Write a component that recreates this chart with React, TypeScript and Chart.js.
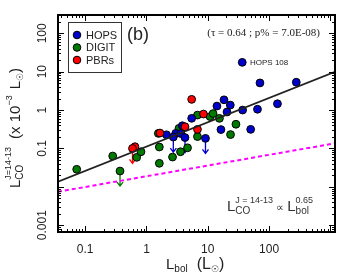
import React, { useEffect, useRef } from "react";
import { Chart, registerables } from "chart.js";
Chart.register(...registerables);

// ---- data ----
const hopsX = [36.5, 71, 278, 137, 64.7, 37, 18.4, 14.1, 23.3, 20.6, 5.46, 16.4, 50.1, 2.12, 3.0, 3.65, 3.84];
const hopsY = [17.5, 5.1, 5.3, 1.46, 1.05, 1.0, 1.85, 1.27, 1.35, 0.89, 0.61, 0.31, 0.314, 0.227, 0.247, 0.244, 0.39];
const hopsUlX = [2.74, 4.25, 9.17];
const hopsUlY = [0.198, 0.192, 0.183];

const digitX = [0.0727, 0.281, 0.692, 0.813, 1.56, 1.62, 1.62, 2.66, 3.39, 3.59, 4.67, 6.79, 6.79, 10.9, 12.2, 15.5, 28.8, 23.5];
const digitY = [0.0286, 0.0634, 0.0587, 0.082, 0.247, 0.109, 0.041, 0.0597, 0.334, 0.082, 0.104, 0.204, 0.741, 0.677, 0.81, 0.608, 0.427, 0.23];
const digitUlX = [0.37];
const digitUlY = [0.0258];

const pbrX = [5.46, 8.51, 4.25, 6.79, 1.66, 0.649];
const pbrY = [1.9, 0.787, 0.367, 0.314, 0.252, 0.111];
const pbrUlX = [0.591];
const pbrUlY = [0.1];

const fitX = [0.036, 1190];
const fitY = [0.0136, 9.9];
const limX = [0.036, 1190];
const limY = [0.00745, 0.136];

const xTickVals = [0.1, 1, 10, 100];
const xTickLabels = ["0.1", "1", "10", "100"];
const yTickVals = [100, 10, 1, 0.1, 0.001];
const yTickLabels = ["100", "10", "1", "0.1", "0.001"];

const X_MIN = 0.036, X_MAX = 1190, Y_MIN = 0.000665, Y_MAX = 300;

const BLUE = "#0000cc";
const GREEN = "#007a00";
const RED = "#ff0000";
const SANS = "'Liberation Sans', Arial, sans-serif";
const SERIF = "'Liberation Serif', 'Times New Roman', serif";

const pts = (xs: number[], ys: number[]) => xs.map((x, i) => ({ x, y: ys[i] }));

type Part = { t: string; size: number; dy?: number; sup?: boolean; sub?: boolean; gap?: number };

function drawRich(ctx: CanvasRenderingContext2D, parts: Part[], x: number, y: number, color: string) {
  let cx = x;
  let lastSubStart = -1;
  let lastSubW = 0;
  ctx.fillStyle = color;
  ctx.textBaseline = "alphabetic";
  ctx.textAlign = "left";
  for (let i = 0; i < parts.length; i++) {
    const p = parts[i];
    cx += p.gap || 0;
    ctx.font = `${p.size}px ${SANS}`;
    const w = ctx.measureText(p.t).width;
    if (p.sup && lastSubStart >= 0) {
      ctx.fillText(p.t, lastSubStart, y + (p.dy || 0));
      cx = lastSubStart + Math.max(w, lastSubW);
      lastSubStart = -1;
      continue;
    }
    ctx.fillText(p.t, cx, y + (p.dy || 0));
    if (p.sub) {
      lastSubStart = cx;
      lastSubW = w;
    } else {
      lastSubStart = -1;
    }
    cx += w;
  }
  return cx - x;
}

function drawArrows(chart: any, xs: number[], ys: number[], color: string) {
  const ctx = chart.ctx as CanvasRenderingContext2D;
  const xs_ = chart.scales.x, ys_ = chart.scales.y;
  ctx.save();
  ctx.strokeStyle = color;
  ctx.lineWidth = 1.3;
  xs.forEach((v, i) => {
    const px = xs_.getPixelForValue(v);
    const py = ys_.getPixelForValue(ys[i]);
    const end = py + 15;
    ctx.beginPath();
    ctx.moveTo(px, py);
    ctx.lineTo(px, end);
    ctx.moveTo(px - 3, end - 4);
    ctx.lineTo(px, end);
    ctx.lineTo(px + 3, end - 4);
    ctx.stroke();
  });
  ctx.restore();
}

const overlay = {
  id: "overlay",
  beforeDatasetsDraw(chart: any) {
    drawArrows(chart, hopsUlX, hopsUlY, BLUE);
    drawArrows(chart, digitUlX, digitUlY, GREEN);
    drawArrows(chart, pbrUlX, pbrUlY, RED);
  },
  afterDraw(chart: any) {
    const ctx = chart.ctx as CanvasRenderingContext2D;
    const a = chart.chartArea;
    const xs = chart.scales.x, ys = chart.scales.y;
    ctx.save();
    // ticks
    ctx.strokeStyle = "#000";
    ctx.lineWidth = 1;
    const decX: [number, boolean][] = [];
    for (let e = -2; e <= 3; e++) for (let m = 1; m <= 9; m++) decX.push([m * Math.pow(10, e), m === 1]);
    decX.forEach(([v, major]) => {
      if (v < X_MIN || v > X_MAX) return;
      const px = Math.round(xs.getPixelForValue(v)) + 0.5;
      const len = major ? 6 : 3;
      ctx.beginPath();
      ctx.moveTo(px, a.bottom);
      ctx.lineTo(px, a.bottom - len);
      ctx.moveTo(px, a.top);
      ctx.lineTo(px, a.top + len);
      ctx.stroke();
    });
    const decY: [number, boolean][] = [];
    for (let e = -4; e <= 2; e++) for (let m = 1; m <= 9; m++) decY.push([m * Math.pow(10, e), m === 1]);
    decY.forEach(([v, major]) => {
      if (v < Y_MIN || v > Y_MAX) return;
      const py = Math.round(ys.getPixelForValue(v)) + 0.5;
      const len = major ? 6 : 3;
      ctx.beginPath();
      ctx.moveTo(a.left, py);
      ctx.lineTo(a.left + len, py);
      ctx.moveTo(a.right, py);
      ctx.lineTo(a.right - len, py);
      ctx.stroke();
    });
    // frame
    ctx.lineWidth = 2;
    ctx.strokeRect(a.left, a.top, a.right - a.left, a.bottom - a.top);

    // tick labels
    ctx.fillStyle = "#222";
    ctx.font = `12px ${SANS}`;
    ctx.textAlign = "center";
    ctx.textBaseline = "alphabetic";
    xTickVals.forEach((v, i) => {
      ctx.fillText(xTickLabels[i], xs.getPixelForValue(v), 253);
    });
    yTickVals.forEach((v, i) => {
      const py = ys.getPixelForValue(v);
      ctx.save();
      ctx.translate(46, py);
      ctx.rotate(-Math.PI / 2);
      ctx.textAlign = "center";
      ctx.fillText(yTickLabels[i], 0, 0);
      ctx.restore();
    });

    // x title
    drawRich(ctx, [
      { t: "L", size: 15 },
      { t: "bol", size: 10, dy: 3, sub: true },
      { t: "(L", size: 16, gap: 9 },
      { t: "\u2609", size: 9, dy: 3 },
      { t: ")", size: 16 },
    ], 166, 269, "#222");

    // y title (rotated)
    ctx.save();
    ctx.translate(20, 188);
    ctx.rotate(-Math.PI / 2);
    drawRich(ctx, [
      { t: "L", size: 15 },
      { t: "CO", size: 10, dy: 3, sub: true },
      { t: "J=14-13", size: 9, dy: -9, sup: true },
      { t: "(x 10", size: 15, gap: 8 },
      { t: "\u22123", size: 9, dy: -8 },
      { t: "L", size: 15, gap: 6 },
      { t: "\u2609", size: 9, dy: 3 },
      { t: ")", size: 15 },
    ], 0, 0, "#222");
    ctx.restore();

    // legend
    ctx.lineWidth = 1;
    ctx.strokeStyle = "#333";
    ctx.strokeRect(68.5, 22.5, 53, 50);
    const leg: [string, string, number][] = [["HOPS", BLUE, 35], ["DIGIT", GREEN, 47.5], ["PBRs", RED, 60]];
    leg.forEach(([name, col, y]) => {
      ctx.beginPath();
      ctx.arc(77, y, 3.8, 0, Math.PI * 2);
      ctx.fillStyle = col;
      ctx.fill();
      ctx.strokeStyle = "#000";
      ctx.stroke();
      ctx.fillStyle = "#222";
      ctx.font = `11px ${SANS}`;
      ctx.textAlign = "left";
      ctx.textBaseline = "middle";
      ctx.fillText(name, 86, y + 0.5);
    });

    // (b)
    ctx.fillStyle = "#222";
    ctx.font = `18px ${SANS}`;
    ctx.textBaseline = "alphabetic";
    ctx.textAlign = "left";
    ctx.fillText("(b)", 127, 40);

    // statistics
    ctx.font = `11px ${SERIF}`;
    ctx.textAlign = "right";
    ctx.fillText("(\u03c4 = 0.64 ; p% = 7.0E-08)", 320, 36);

    // HOPS 108 label
    ctx.font = `8px ${SANS}`;
    ctx.textAlign = "left";
    ctx.fillText("HOPS 108", 250, 65);

    // relation
    drawRich(ctx, [
      { t: "L", size: 15 },
      { t: "CO", size: 10, dy: 3, sub: true },
      { t: "J = 14-13", size: 9, dy: -8, sup: true },
      { t: " \u221d ", size: 11 },
      { t: "L", size: 15 },
      { t: "bol", size: 10, dy: 3, sub: true },
      { t: "0.65", size: 9, dy: -8, sup: true },
    ], 227, 211, "#333");
    ctx.restore();
  },
};

export default function App() {
  const ref = useRef<HTMLCanvasElement>(null);
  useEffect(() => {
    if (!ref.current) return;
    const scatterBase = { type: "scatter" as const, pointRadius: 3.9, pointBorderColor: "#000", pointBorderWidth: 1, showLine: false };
    const chart = new Chart(ref.current, {
      type: "scatter",
      data: {
        datasets: [
          { type: "line", data: pts(fitX, fitY), borderColor: "#222", borderWidth: 1.8, pointRadius: 0, showLine: true, order: 0 } as any,
          { type: "line", data: pts(limX, limY), borderColor: "#ff00ff", borderWidth: 2, borderDash: [4, 3], pointRadius: 0, showLine: true, order: 0 } as any,
          { ...scatterBase, label: "PBRs", data: pts(pbrX, pbrY).concat(pts(pbrUlX, pbrUlY)), backgroundColor: RED, order: 1 },
          { ...scatterBase, label: "HOPS", data: pts(hopsX, hopsY).concat(pts(hopsUlX, hopsUlY)), backgroundColor: BLUE, order: 2 },
          { ...scatterBase, label: "DIGIT", data: pts(digitX, digitY).concat(pts(digitUlX, digitUlY)), backgroundColor: GREEN, order: 3 },
        ],
      },
      options: {
        animation: false,
        responsive: false,
        devicePixelRatio: 1,
        layout: { padding: { left: 58, top: 15, right: 15, bottom: 48 } },
        plugins: { legend: { display: false }, tooltip: { enabled: false } },
        scales: {
          x: { type: "logarithmic", min: X_MIN, max: X_MAX, display: false },
          y: { type: "logarithmic", min: Y_MIN, max: Y_MAX, display: false },
        },
      },
      plugins: [overlay],
    });
    return () => chart.destroy();
  }, []);
  return (
    <div style={{ position: "absolute", left: 0, top: 0, width: 350, height: 280, background: "#fff" }}>
      <canvas ref={ref} width={350} height={280} />
    </div>
  );
}
